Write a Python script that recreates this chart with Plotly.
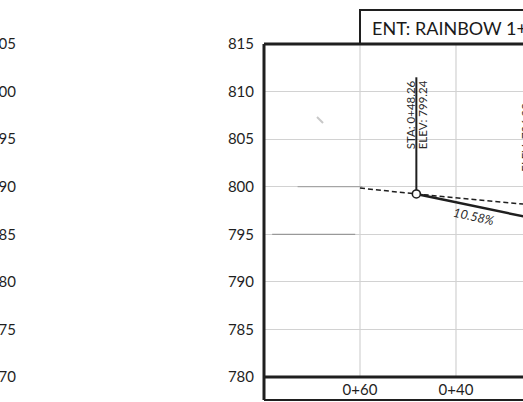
import plotly.graph_objects as go

# ---- data ----
y_ticks = [780, 785, 790, 795, 800, 805, 810, 815]
y_ticks_prev = [770, 775, 780, 785, 790, 795, 800, 805]
x_grid = [80, 60, 40, 20]
x_ticks = [60, 40, 20]
x_tick_text = ["0+60", "0+40", "0+20"]

pvi_sta = 48.26
pvi_elev = 799.24
pvi_label_top = 811.5

proposed_sta = [48.26, 20.0]
proposed_elev = [799.24, 796.25]

existing_sta = [60.0, 48.26, 20.0]
existing_elev = [799.86, 799.24, 797.88]

faint1_sta = [73.0, 59.5]
faint1_elev = [800.0, 800.0]
faint2_sta = [78.3, 61.0]
faint2_elev = [795.0, 795.0]
scratch_sta = [68.96, 67.7]
scratch_elev = [807.33, 806.70]

grade_label = "10.58%"
grade_label_pos = (36.25, 796.82)
title_text = "ENT: RAINBOW 1+30"

W, H = 523, 402
FONT = "Lato"
DARK = "#1f1f1f"

fig = go.Figure()

# light vertical grid lines (incl. 0+80 under the frame)
for xv in x_grid:
    fig.add_vline(x=xv, line=dict(color="#d2d2d2", width=1.2), layer="below")

# faint background linework
fig.add_trace(go.Scatter(x=faint1_sta, y=faint1_elev, mode="lines",
                         line=dict(color="#9a9a9a", width=1), hoverinfo="skip"))
fig.add_trace(go.Scatter(x=faint2_sta, y=faint2_elev, mode="lines",
                         line=dict(color="#8a8a8a", width=1), hoverinfo="skip"))
fig.add_trace(go.Scatter(x=scratch_sta, y=scratch_elev, mode="lines",
                         line=dict(color="#c8c8c8", width=2), hoverinfo="skip"))

# existing ground (dashed)
fig.add_trace(go.Scatter(x=existing_sta, y=existing_elev, mode="lines",
                         line=dict(color=DARK, width=1.5, dash="5px,3px"), hoverinfo="skip"))
# proposed grade
fig.add_trace(go.Scatter(x=proposed_sta, y=proposed_elev, mode="lines",
                         line=dict(color=DARK, width=2.5), hoverinfo="skip"))
# PVI leader line
fig.add_trace(go.Scatter(x=[pvi_sta, pvi_sta], y=[pvi_elev, pvi_label_top], mode="lines",
                         line=dict(color=DARK, width=2), hoverinfo="skip"))
# PVI marker
fig.add_trace(go.Scatter(x=[pvi_sta], y=[pvi_elev], mode="markers",
                         marker=dict(symbol="circle", size=8, color="white",
                                     line=dict(color=DARK, width=1.6)), hoverinfo="skip"))

# dummy trace for second (cropped) y axis
fig.add_trace(go.Scatter(x=[None], y=[None], yaxis="y2", showlegend=False))

fig.update_layout(
    width=W, height=H,
    margin=dict(l=0, r=0, t=44, b=25),
    paper_bgcolor="white", plot_bgcolor="white",
    showlegend=False,
    template="none",
    font=dict(family=FONT, color=DARK, size=15),
    xaxis=dict(domain=[264 / W, 1], range=[80, 26.04], tickvals=x_ticks, ticktext=x_tick_text,
               showgrid=False, zeroline=False,
               showline=False, ticks="", ticklabelstandoff=2, automargin=False,
               tickfont=dict(size=15, family=FONT, color=DARK)),
    yaxis=dict(range=[780, 815], tickvals=y_ticks, showgrid=True, gridcolor="#d2d2d2",
               gridwidth=1.2, zeroline=False, showline=False, ticks="", ticklabelstandoff=9,
               automargin=False, tickfont=dict(size=15, family=FONT, color=DARK)),
    yaxis2=dict(range=[770, 805], tickvals=y_ticks_prev, overlaying="y", anchor="free",
                position=17 / W, side="left", showgrid=False, zeroline=False, showline=False,
                ticks="", ticklabelstandoff=1, automargin=False,
                tickfont=dict(size=15, family=FONT, color=DARK)),
)

# frame
strip_bottom = -23 / 333
shapes = [
    dict(type="line", xref="x domain", yref="y domain", x0=0, x1=0, y0=strip_bottom, y1=1,
         line=dict(color=DARK, width=3)),
    dict(type="line", xref="x domain", yref="y domain", x0=0, x1=1.2, y0=1, y1=1,
         line=dict(color=DARK, width=3)),
    dict(type="line", xref="x domain", yref="y domain", x0=0, x1=1.2, y0=0, y1=0,
         line=dict(color=DARK, width=3)),
    dict(type="line", xref="x domain", yref="y domain", x0=0, x1=1.2, y0=strip_bottom,
         y1=strip_bottom, line=dict(color=DARK, width=2)),
    # title box
    dict(type="rect", xref="x domain", yref="y domain", x0=(360 - 264) / 259, x1=1.2,
         y0=1, y1=1 + 34 / 333, line=dict(color=DARK, width=2), fillcolor="rgba(0,0,0,0)"),
]
for s in shapes:
    fig.add_shape(**s)

ann = [
    dict(text="STA: 0+48.26", x=49.4, y=807.6, xref="x", yref="y", textangle=-90,
         xanchor="center", yanchor="middle",
         showarrow=False, font=dict(size=11.5, family=FONT, color="#2a2a2a")),
    dict(text="ELEV: 799.24", x=47.1, y=807.6, xref="x", yref="y", textangle=-90,
         xanchor="center", yanchor="middle",
         showarrow=False, font=dict(size=11.5, family=FONT, color="#2a2a2a")),
    dict(text="ELEV: 796.92", x=525.5 / W, y=805.2, xref="paper", yref="y", textangle=-90,
         xanchor="center", yanchor="middle",
         showarrow=False, font=dict(size=11.5, family=FONT, color="#2a2a2a")),
    dict(text=grade_label, x=grade_label_pos[0], y=grade_label_pos[1], xref="x", yref="y",
         textangle=12, showarrow=False, xanchor="center", yanchor="middle",
         font=dict(size=12.5, family=FONT, color="#2a2a2a", style="italic")),
    dict(text=title_text, x=370 / W, y=1 + 16 / 333, xref="paper", yref="paper",
         xanchor="left", yanchor="middle", showarrow=False,
         font=dict(size=18, family=FONT, color="#1a1a1a")),
]
fig.update_layout(annotations=ann)

fig.write_html("out.html", config={"displayModeBar": False},
               post_script="document.body.style.margin='0';document.body.style.overflow='hidden';")
